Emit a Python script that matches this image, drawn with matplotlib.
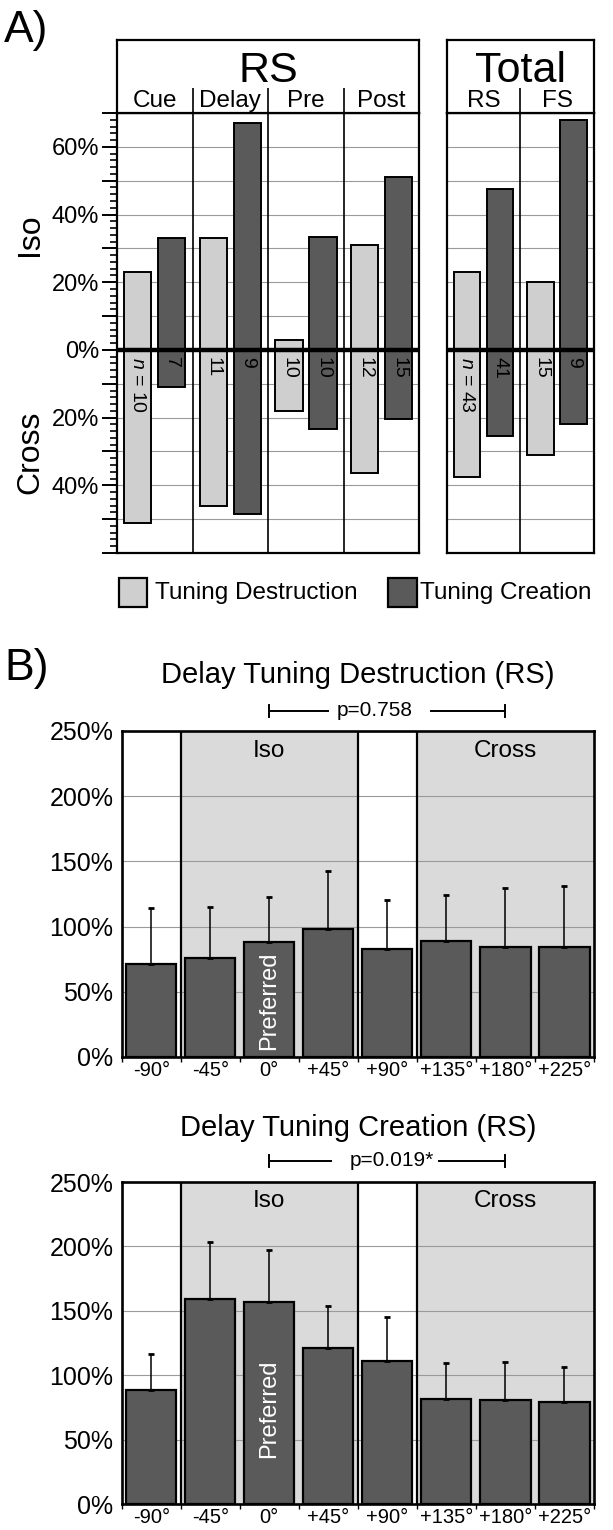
import matplotlib
matplotlib.use('Agg')
import matplotlib.pyplot as plt
import numpy as np
from matplotlib.patches import Rectangle
from matplotlib.ticker import FixedLocator, MultipleLocator, FuncFormatter
import matplotlib.transforms as mtrans

plt.rcParams['font.family'] = ['Liberation Sans', 'DejaVu Sans']
plt.rcParams['mathtext.fontset'] = 'custom'
plt.rcParams['mathtext.rm'] = 'Liberation Sans'
plt.rcParams['mathtext.it'] = 'Liberation Sans:italic'

# ---------------- Panel A data ----------------
rs_epochs = ['Cue', 'Delay', 'Pre', 'Post']
rs_destr_iso = [23, 33, 3, 31]
rs_destr_cross = [51, 46, 18, 36.5]
rs_create_iso = [33, 67, 33.5, 51]
rs_create_cross = [11, 48.5, 23.5, 20.5]
rs_destr_n = [10, 11, 10, 12]
rs_create_n = [7, 9, 10, 15]

total_groups = ['RS', 'FS']
tot_destr_iso = [23, 20]
tot_destr_cross = [37.5, 31]
tot_create_iso = [47.5, 68]
tot_create_cross = [25.5, 22]
tot_destr_n = [43, 15]
tot_create_n = [41, 9]

a_label_values = [-40, -20, 0, 20, 40, 60]

# ---------------- Panel B data ----------------
directions = ['-90°', '-45°', '0°', '+45°', '+90°', '+135°', '+180°', '+225°']
destr_mean = [71, 76, 88, 98.5, 82.5, 89, 84, 84]
destr_err_top = [114, 115, 123, 143, 120.5, 124, 129.5, 131.5]
create_mean = [88.5, 159, 157, 121, 111, 81.5, 80.5, 79.5]
create_err_top = [116.5, 203.5, 197.5, 154, 145.5, 109.5, 110.5, 106.5]

# ---------------- style ----------------
W, H = 613, 1530
LIGHT = '#cfcfcf'
DARK = '#5a5a5a'
SHADE = '#dadada'
GRID = '#9a9a9a'
BOX_LW = 1.6

fig = plt.figure(figsize=(W / 100, H / 100), dpi=100)


def fr(x0, y0, x1, y1):
    return [x0 / W, 1 - y1 / H, (x1 - x0) / W, (y1 - y0) / H]


def fp(x, y):
    return x / W, 1 - y / H


# ---------------- Panel A ----------------
axA1 = fig.add_axes(fr(117, 113, 419.3, 553))
axA2 = fig.add_axes(fr(446.6, 113, 594, 553))
hdr1 = fig.add_axes(fr(117, 40, 419.3, 113))
hdr2 = fig.add_axes(fr(446.6, 40, 594, 113))


def draw_groups(ax, names, d_iso, d_cross, c_iso, c_cross, d_n, c_n, show_y):
    x = np.arange(len(names))
    w = 0.36
    xd = x + 0.275
    xc = x + 0.725
    kw = dict(edgecolor='black', linewidth=1.4, zorder=3)
    ax.bar(xd, d_iso, w, color=LIGHT, **kw)
    ax.bar(xd, -np.array(d_cross), w, color=LIGHT, **kw)
    ax.bar(xc, c_iso, w, color=DARK, **kw)
    ax.bar(xc, -np.array(c_cross), w, color=DARK, **kw)
    ax.axhline(0, color='black', lw=3.2, zorder=5)
    for i in range(1, len(names)):
        ax.axvline(i, color='black', lw=1.2, zorder=4)
    ax.set_xlim(0, len(names))
    ax.set_ylim(-60, 70)
    ax.yaxis.set_major_locator(MultipleLocator(10))
    ax.yaxis.set_minor_locator(MultipleLocator(2))
    ax.yaxis.set_major_formatter(FuncFormatter(
        lambda v, p: f'{abs(int(round(v)))}%' if int(round(v)) in a_label_values else ''))
    ax.grid(axis='y', which='major', color=GRID, lw=0.8, zorder=0)
    ax.set_xticks([])
    for s in ax.spines.values():
        s.set_linewidth(BOX_LW)
    if show_y:
        ax.tick_params(axis='y', which='major', length=11, width=1.4, pad=2, labelsize=17)
        ax.tick_params(axis='y', which='minor', length=5, width=1.2)
    else:
        ax.tick_params(axis='y', which='both', left=False, labelleft=False)
    for i in range(len(names)):
        lab_d = (r'$n$ = ' if i == 0 else '') + str(d_n[i])
        lab_c = str(c_n[i])
        ax.text(xd[i], -2.2, lab_d, rotation=270, ha='center', va='top', fontsize=14, zorder=6)
        ax.text(xc[i], -2.2, lab_c, rotation=270, ha='center', va='top', fontsize=14, zorder=6)


draw_groups(axA1, rs_epochs, rs_destr_iso, rs_destr_cross, rs_create_iso, rs_create_cross,
            rs_destr_n, rs_create_n, True)
draw_groups(axA2, total_groups, tot_destr_iso, tot_destr_cross, tot_create_iso, tot_create_cross,
            tot_destr_n, tot_create_n, False)


def draw_header(ax, title, names):
    ax.set_xlim(0, len(names))
    ax.set_ylim(0, 1)
    ax.set_xticks([])
    ax.set_yticks([])
    for s in ax.spines.values():
        s.set_linewidth(BOX_LW)
    ax.vlines(np.arange(1, len(names)), 0, 0.34, color='black', lw=1.2)
    ax.text(len(names) / 2, 0.43, title, ha='center', va='baseline', fontsize=31)
    for i, n in enumerate(names):
        ax.text(i + 0.5, 0.08, n, ha='center', va='baseline', fontsize=17.5)


draw_header(hdr1, 'RS', rs_epochs)
draw_header(hdr2, 'Total', total_groups)

fig.text(*fp(4, 42), 'A)', fontsize=32, va='baseline', ha='left')
fig.text(*fp(30, 235), 'Iso', fontsize=23, rotation=90, ha='center', va='center')
fig.text(*fp(30, 452), 'Cross', fontsize=23, rotation=90, ha='center', va='center')

# legend
for (x0, x1, tx, col, lab) in [(119, 147.4, 155, LIGHT, 'Tuning Destruction'),
                               (388, 416.5, 420.4, DARK, 'Tuning Creation')]:
    fx0, fy0 = fp(x0, 607)
    fx1, fy1 = fp(x1, 578)
    fig.patches.append(Rectangle((fx0, fy0), fx1 - fx0, fy1 - fy0, transform=fig.transFigure,
                                 facecolor=col, edgecolor='black', lw=1.6))
    fig.text(*fp(tx, 593), lab, fontsize=17.5, ha='left', va='center')

# ---------------- Panel B ----------------
axB1 = fig.add_axes(fr(121.7, 731, 594, 1057))
axB2 = fig.add_axes(fr(121.7, 1182, 594, 1504))


def draw_B(ax, mean, top, title, ptext, seg_left_end, text_x, seg_right_start, pref_y, title_y, p_y):
    x = np.arange(len(directions))
    ax.axvspan(0.5, 3.5, color=SHADE, zorder=0, lw=0)
    ax.axvspan(4.5, 7.5, color=SHADE, zorder=0, lw=0)
    ax.set_xlim(-0.5, 7.5)
    ax.set_ylim(0, 250)
    ax.set_yticks([0, 50, 100, 150, 200, 250])
    ax.set_yticklabels([f'{v}%' for v in [0, 50, 100, 150, 200, 250]])
    ax.set_axisbelow(True)
    ax.yaxis.grid(True, color=GRID, lw=0.8)
    upper = np.array(top) - np.array(mean)
    ax.bar(x, mean, 0.85, color=DARK, edgecolor='black', linewidth=1.6, zorder=2)
    ax.errorbar(x, mean, yerr=[np.zeros(len(x)), upper], fmt='none', ecolor='black',
                elinewidth=1.1, capsize=2.5, capthick=2, zorder=2.5)
    for xv in [0.5, 3.5, 4.5]:
        ax.axvline(xv, color='black', lw=1.6, zorder=3)
    ax.set_xticks(x)
    ax.set_xticklabels(directions)
    ax.xaxis.set_minor_locator(FixedLocator(np.arange(-0.5, 8, 1)))
    ax.tick_params(axis='x', which='major', length=0, pad=3, labelsize=14.5)
    ax.tick_params(axis='x', which='minor', length=3.5, width=1, direction='out')
    ax.tick_params(axis='y', length=0, pad=6, labelsize=18)
    for s in ax.spines.values():
        s.set_linewidth(BOX_LW + 0.3)
    ax.text(2, 0.94, 'Iso', transform=mtrans.blended_transform_factory(ax.transData, ax.transAxes),
            ha='center', va='center', fontsize=17.5, zorder=4)
    ax.text(6, 0.94, 'Cross', transform=mtrans.blended_transform_factory(ax.transData, ax.transAxes),
            ha='center', va='center', fontsize=17.5, zorder=4)
    ax.text(2, pref_y, 'Preferred', rotation=90, color='white', ha='center', va='bottom',
            fontsize=17, zorder=6)
    ax.text(0.5, title_y, title, transform=ax.transAxes, ha='center', va='baseline', fontsize=21)
    tr = mtrans.blended_transform_factory(ax.transData, ax.transAxes)
    lk = dict(color='black', lw=1.4, transform=tr, clip_on=False)
    ax.plot([2, seg_left_end], [p_y, p_y], **lk)
    ax.plot([seg_right_start, 6], [p_y, p_y], **lk)
    ax.plot([2, 2], [p_y - 0.018, p_y + 0.018], **lk)
    ax.plot([6, 6], [p_y - 0.018, p_y + 0.018], **lk)
    ax.text(text_x, p_y, ptext, transform=tr, ha='center', va='center', fontsize=15)


draw_B(axB1, destr_mean, destr_err_top, 'Delay Tuning Destruction (RS)', 'p=0.758',
       3.0, 3.78, 4.74, 5, 1.147, 1.062)
draw_B(axB2, create_mean, create_err_top, 'Delay Tuning Creation (RS)', 'p=0.019*',
       3.05, 4.08, 4.87, 36, 1.143, 1.066)

fig.text(*fp(4, 680), 'B)', fontsize=32, va='baseline', ha='left')

fig.savefig('out.png', dpi=100)
